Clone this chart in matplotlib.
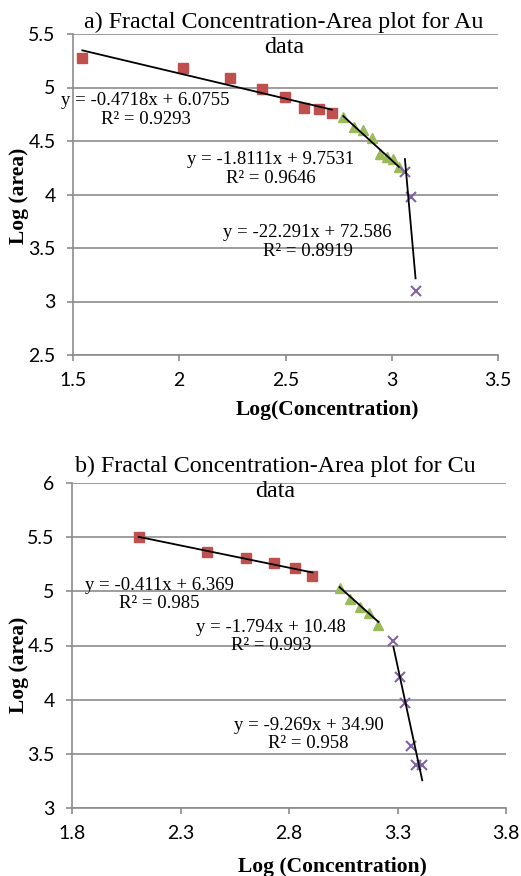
import numpy as np
from matplotlib import pyplot as plt

# Au data (panel a)
au_red_x = [1.544, 2.018, 2.241, 2.389, 2.497, 2.585, 2.659, 2.718]
au_red_y = [5.279, 5.185, 5.092, 4.986, 4.908, 4.812, 4.796, 4.765]
au_green_x = [2.772, 2.822, 2.866, 2.908, 2.944, 2.979, 3.007, 3.034]
au_green_y = [4.721, 4.634, 4.603, 4.531, 4.380, 4.354, 4.329, 4.260]
au_purple_x = [3.062, 3.089, 3.112]
au_purple_y = [4.213, 3.974, 3.098]
au_fits = [(-0.4718, 6.0755, 0.9293), (-1.8111, 9.7531, 0.9646), (-22.291, 72.586, 0.8919)]
au_fit_text = ["y = -0.4718x + 6.0755\nR² = 0.9293",
               "y = -1.8111x + 9.7531\nR² = 0.9646",
               "y = -22.291x + 72.586\nR² = 0.8919"]

# Cu data (panel b)
cu_red_x = [2.107, 2.422, 2.602, 2.729, 2.828, 2.908]
cu_red_y = [5.497, 5.359, 5.310, 5.257, 5.217, 5.146]
cu_green_x = [3.033, 3.083, 3.127, 3.169, 3.212]
cu_green_y = [5.027, 4.928, 4.852, 4.796, 4.690]
cu_purple_x = [3.281, 3.311, 3.336, 3.362, 3.387, 3.414]
cu_purple_y = [4.542, 4.213, 3.967, 3.574, 3.400, 3.400]
cu_fits = [(-0.411, 6.369), (-1.794, 10.48), (-9.269, 34.90)]
cu_fit_text = ["y = -0.411x + 6.369\nR² = 0.985",
               "y = -1.794x + 10.48\nR² = 0.993",
               "y = -9.269x + 34.90\nR² = 0.958"]

RED = "#C0504D"
GREEN = "#9BBB59"
PURPLE = "#8064A2"
GRID = "#8C8C8C"
SERIF = "Liberation Serif"
SANS = "Lato"

W, H = 521, 876
fig = plt.figure(figsize=(W / 100, H / 100), dpi=100)


def px_axes(x0, x1, y0, y1):
    return fig.add_axes([x0 / W, 1 - y1 / H, (x1 - x0) / W, (y1 - y0) / H])


def style(ax, xticks, yticks):
    ax.set_xlim(xticks[0], xticks[-1])
    ax.set_ylim(yticks[0], yticks[-1])
    ax.set_xticks(xticks)
    ax.set_yticks(yticks)
    ax.set_xticklabels([("%g" % t) for t in xticks], fontfamily=SANS, fontsize=14)
    ax.set_yticklabels([("%g" % t) for t in yticks], fontfamily=SANS, fontsize=14)
    for s in ["top", "right"]:
        ax.spines[s].set_visible(False)
    for s in ["left", "bottom"]:
        ax.spines[s].set_color(GRID)
        ax.spines[s].set_linewidth(1.2)
    ax.tick_params(direction="out", length=4.5, width=1.2, color=GRID, pad=8)
    ax.yaxis.grid(True, color=GRID, linewidth=1.2)
    ax.set_axisbelow(True)


def series(ax, rx, ry, gx, gy, px, py, fits):
    groups = [(rx, ry), (gx, gy), (px, py)]
    ax.plot(rx, ry, "s", color=RED, markersize=6.5, zorder=3)
    ax.plot(gx, gy, "^", color=GREEN, markersize=7.5, zorder=3)
    ax.plot(px, py, "x", color=PURPLE, markersize=7, mew=1.5, zorder=3)
    for (xs, ys), f in zip(groups, fits):
        xx = np.array([min(xs), max(xs)])
        ax.plot(xx, f[0] * xx + f[1], color="black", linewidth=1.3, zorder=4)


# Panel a
ax1 = px_axes(73, 498, 34, 355)
style(ax1, [1.5, 2, 2.5, 3, 3.5], [2.5, 3, 3.5, 4, 4.5, 5, 5.5])
series(ax1, au_red_x, au_red_y, au_green_x, au_green_y, au_purple_x, au_purple_y, au_fits)
for (tx, ty), s in zip([(1.842, 4.79), (2.429, 4.237), (2.604, 3.555)], au_fit_text):
    ax1.text(tx, ty, s, ha="center", va="center", fontfamily=SERIF, fontsize=13.5,
             linespacing=1.1, zorder=5)
fig.text(284 / W, 1 - 35 / H, "a) Fractal Concentration-Area plot for Au\ndata",
         ha="center", va="center", fontfamily=SERIF, fontsize=17.3, linespacing=1.25)
fig.text(327 / W, 1 - 410 / H, "Log(Concentration)", ha="center", va="center",
         fontfamily=SERIF, fontsize=15.5, fontweight="bold")
fig.text(19 / W, 1 - 196 / H, "Log (area)", ha="center", va="center", rotation=90,
         fontfamily=SERIF, fontsize=15.5, fontweight="bold")

# Panel b
ax2 = px_axes(72, 506, 483, 808)
style(ax2, [1.8, 2.3, 2.8, 3.3, 3.8], [3, 3.5, 4, 4.5, 5, 5.5, 6])
series(ax2, cu_red_x, cu_red_y, cu_green_x, cu_green_y, cu_purple_x, cu_purple_y, cu_fits)
for (tx, ty), s in zip([(2.201, 4.973), (2.719, 4.583), (2.891, 3.677)], cu_fit_text):
    ax2.text(tx, ty, s, ha="center", va="center", fontfamily=SERIF, fontsize=13.5,
             linespacing=1.1, zorder=5)
fig.text(275 / W, 1 - 479 / H, "b) Fractal Concentration-Area plot for Cu\ndata",
         ha="center", va="center", fontfamily=SERIF, fontsize=17.3, linespacing=1.25)
fig.text(332 / W, 1 - 867 / H, "Log (Concentration)", ha="center", va="center",
         fontfamily=SERIF, fontsize=15.5, fontweight="bold")
fig.text(19 / W, 1 - 665 / H, "Log (area)", ha="center", va="center", rotation=90,
         fontfamily=SERIF, fontsize=15.5, fontweight="bold")

fig.savefig("out.png", dpi=100)
